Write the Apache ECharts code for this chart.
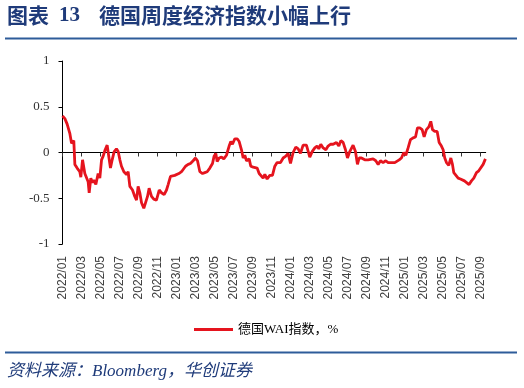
<!DOCTYPE html>
<html>
<head>
<meta charset="utf-8">
<script src="https://cdn.jsdelivr.net/npm/echarts@6/dist/echarts.min.js"></script>
<style>
html,body{margin:0;padding:0;background:#fff;}
#c{width:524px;height:388px;}
</style>
</head>
<body>
<div id="c"></div>
<script>
// x: months since 2022/01 (weekly observations), y: 德国WAI指数 (%)
var months = [
0.00,0.25,0.49,0.77,0.95,1.05,1.19,1.30,1.54,1.82,1.93,2.11,2.35,2.70,2.81,2.98,3.16,3.30,3.51,3.75,3.93,
4.11,4.28,4.49,4.70,4.91,5.05,5.23,5.44,5.68,5.86,6.04,6.21,6.46,6.74,6.91,7.09,7.37,7.61,7.79,7.96,
8.14,8.32,8.56,8.77,8.95,9.12,9.37,9.61,9.89,10.18,10.42,10.70,10.95,11.12,11.37,11.58,11.82,12.00,
12.25,12.53,12.70,12.95,13.23,13.47,13.75,14.00,14.21,14.46,14.74,14.98,15.23,15.51,15.79,15.96,
16.14,16.28,16.49,16.74,16.98,17.26,17.54,17.72,17.89,18.14,18.39,18.60,18.84,19.02,19.19,19.37,
19.65,19.82,20.07,20.25,20.49,20.70,21.12,21.30,21.54,21.82,22.10,22.35,22.59,22.95,23.23,23.51,
23.75,24.00,24.28,24.56,24.81,25.05,25.33,25.68,25.86,26.03,26.28,26.56,26.80,26.98,27.19,27.44,
27.72,27.96,28.21,28.49,28.84,29.09,29.30,29.54,29.79,30.00,30.24,30.59,30.84,31.05,31.23,31.47,
31.82,32.17,32.70,32.98,33.23,33.47,33.75,34.03,34.28,34.63,34.98,35.16,35.44,35.68,35.93,36.14,
36.38,36.63,36.91,37.16,37.37,37.61,37.86,38.07,38.31,38.56,38.77,38.95,39.19,39.44,39.65,39.89,
40.07,40.24,40.42,40.66,40.88,41.05,41.19,41.40,41.65,41.89,42.10,42.31,42.52,42.80,43.05,43.30,
43.58,43.82,44.03,44.28,44.52
];
var wai = [
0.40,0.37,0.31,0.21,0.10,0.12,0.13,-0.13,-0.17,-0.21,-0.27,-0.08,-0.23,-0.32,-0.44,-0.28,-0.33,-0.30,-0.35,-0.23,-0.28,
-0.08,-0.04,0.03,0.08,0.09,-0.17,-0.08,0.01,0.04,0.01,-0.08,-0.15,-0.21,-0.24,-0.21,-0.37,-0.41,-0.48,-0.52,-0.37,
-0.44,-0.55,-0.61,-0.60,-0.48,-0.39,-0.48,-0.51,-0.52,-0.41,-0.44,-0.46,-0.41,-0.35,-0.26,-0.24,-0.25,-0.23,
-0.23,-0.21,-0.19,-0.15,-0.13,-0.12,-0.09,-0.06,-0.09,-0.21,-0.23,-0.22,-0.21,-0.17,-0.12,-0.04,
-0.01,-0.10,-0.06,-0.05,-0.07,-0.03,0.07,0.12,0.09,0.15,0.15,0.12,0.03,-0.06,-0.03,-0.09,
-0.07,-0.15,-0.16,-0.15,-0.17,-0.23,-0.28,-0.24,-0.29,-0.25,-0.25,-0.15,-0.11,-0.11,-0.06,-0.04,
-0.01,-0.12,0.00,0.06,0.04,-0.01,0.08,0.08,0.09,-0.05,0.01,0.05,0.07,0.04,0.09,0.05,
0.03,0.07,0.09,0.09,0.11,0.07,0.13,0.11,0.03,-0.06,0.01,0.08,0.01,-0.13,-0.06,-0.06,
-0.08,-0.08,-0.07,-0.09,-0.13,-0.09,-0.11,-0.09,-0.11,-0.11,-0.11,-0.13,-0.08,-0.06,0.00,-0.03,
0.05,0.14,0.16,0.17,0.27,0.27,0.25,0.17,0.25,0.28,0.34,0.25,0.23,0.23,0.11,0.07,
0.03,-0.06,-0.11,-0.14,-0.06,-0.13,-0.22,-0.24,-0.28,-0.29,-0.27,-0.31,-0.32,-0.35,-0.31,-0.28,
-0.22,-0.20,-0.19,-0.13,-0.07
];
var tickMonths = [0,2,4,6,8,10,12,14,16,18,20,22,24,26,28,30,32,34,36,38,40,42,44];
var tickLabels = ['2022/01','2022/03','2022/05','2022/07','2022/09','2022/11',
'2023/01','2023/03','2023/05','2023/07','2023/09','2023/11',
'2024/01','2024/03','2024/05','2024/07','2024/09','2024/11',
'2025/01','2025/03','2025/05','2025/07','2025/09'];
var seriesName = '德国WAI指数，%';
var titleParts = ['图表', '13', '德国周度经济指数小幅上行'];
var sourceText = '资料来源：Bloomberg，华创证券';

var points = months.map(function (m, i) { return [m, wai[i]]; });

var chart = echarts.init(document.getElementById('c'), null, {renderer: 'canvas'});
var navy = '#1F3B7A';
var lineBlue = '#2E5C9A';
chart.setOption({
  animation: false,
  backgroundColor: '#ffffff',
  grid: {left: 62.5, right: 38.3, top: 61, bottom: 144, containLabel: false, outerBoundsMode: 'none'},
  legend: {
    data: [{name: seriesName, icon: 'rect'}],
    left: 189, top: 318,
    itemWidth: 39, itemHeight: 3, itemGap: 10,
    textStyle: {fontFamily: '"Liberation Serif","Noto Sans CJK SC"', fontSize: 13, color: '#000'}
  },
  xAxis: {
    type: 'value', min: 0, max: 44.55,
    splitLine: {show: false},
    axisLine: {show: true, onZero: true, lineStyle: {color: '#000', width: 1}},
    axisTick: {show: true, length: 4, inside: false, customValues: tickMonths, lineStyle: {color: '#333'}},
    axisLabel: {
      show: true, rotate: 90, margin: 12, customValues: tickMonths,
      fontFamily: '"Liberation Sans", Arial', fontSize: 12, color: '#404040',
      formatter: function (v) { var i = tickMonths.indexOf(Math.round(v)); return i >= 0 ? tickLabels[i] : ''; }
    }
  },
  yAxis: {
    type: 'value', min: -1, max: 1, interval: 0.5,
    splitLine: {show: false},
    axisLine: {show: true, lineStyle: {color: '#000', width: 1}},
    axisTick: {show: true, length: 4, inside: false, lineStyle: {color: '#000'}},
    axisLabel: {margin: 13, fontFamily: '"Liberation Serif","Times New Roman"', fontSize: 13, color: '#333'}
  },
  series: [{
    name: seriesName, type: 'line', data: points,
    showSymbol: false, symbol: 'none', smooth: false,
    lineStyle: {color: '#E5141E', width: 2.8},
    itemStyle: {color: '#E5141E'}
  }],
  graphic: [
    {type: 'text', left: 7, top: 5, style: {text: titleParts[0], font: 'bold 21px "Noto Sans CJK SC"', fill: navy}},
    {type: 'text', left: 59, top: 5, style: {text: titleParts[1], font: 'bold 21px "Liberation Serif"', fill: navy}},
    {type: 'text', left: 99, top: 5, style: {text: titleParts[2], font: 'bold 21px "Noto Sans CJK SC"', fill: navy}},
    {type: 'rect', shape: {x: 5, y: 37.5, width: 512, height: 2}, style: {fill: lineBlue}},
    {type: 'rect', shape: {x: 5, y: 351.5, width: 512, height: 2}, style: {fill: lineBlue}},
    {type: 'text', left: 7, top: 363, style: {text: sourceText, font: 'italic 17px "Liberation Serif","Noto Sans CJK SC"', fill: navy}}
  ]
});
</script>
</body>
</html>
